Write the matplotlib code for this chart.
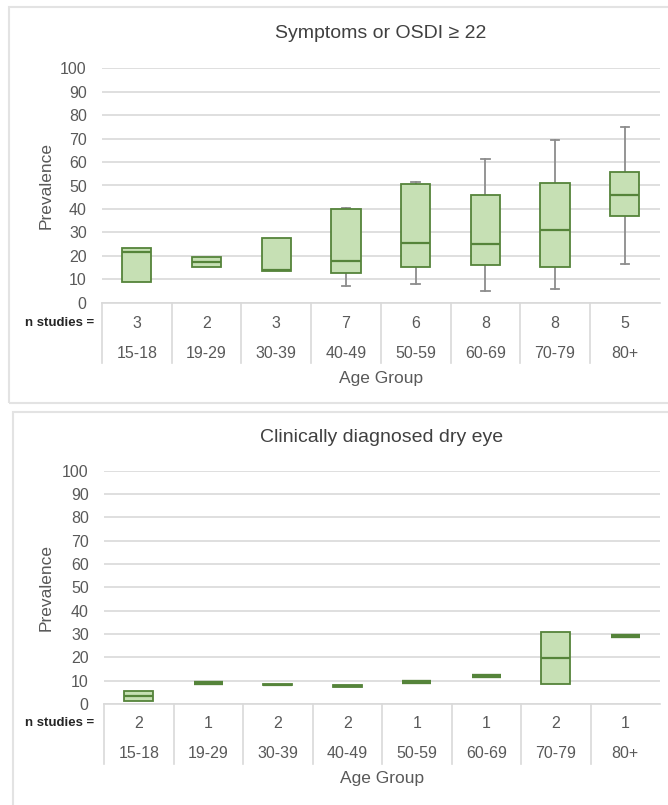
#!/usr/bin/env python3

import matplotlib
matplotlib.use('Agg')
import matplotlib.pyplot as plt
import matplotlib.transforms as mtransforms
from matplotlib.patches import Rectangle

plt.rcParams['font.family'] = ['Liberation Sans', 'DejaVu Sans']

# Age groups shared by both panels
AGES = ['15-18', '19-29', '30-39', '40-49', '50-59', '60-69', '70-79', '80+']

# Panel 1: symptoms or OSDI >= 22
sym_n = [3, 2, 3, 7, 6, 8, 8, 5]
sym_lo = [9.0, 15.1, 13.7, 7.1, 7.8, 5.0, 5.7, 16.4]
sym_q1 = [9.0, 15.1, 13.7, 12.8, 15.4, 16.1, 15.1, 37.1]
sym_med = [21.5, 17.2, 14.0, 17.9, 25.3, 24.9, 31.0, 45.9]
sym_q3 = [23.4, 19.3, 27.6, 39.8, 50.6, 45.8, 51.1, 55.9]
sym_hi = [23.4, 19.3, 27.6, 40.3, 51.5, 61.2, 69.4, 75.1]

# Panel 2: clinically diagnosed dry eye
clin_n = [2, 1, 2, 2, 1, 1, 2, 1]
clin_lo = [1.3, 8.9, 8.0, 7.4, 9.4, 12.0, 8.4, 29.0]
clin_q1 = [1.3, 8.9, 8.0, 7.4, 9.4, 12.0, 8.4, 29.0]
clin_med = [3.4, 8.9, 8.3, 7.7, 9.4, 12.0, 19.6, 29.0]
clin_q3 = [5.7, 8.9, 8.6, 8.0, 9.4, 12.0, 31.0, 29.0]
clin_hi = [5.7, 8.9, 8.6, 8.0, 9.4, 12.0, 31.0, 29.0]

W, H = 668, 805
FILL = '#c6e0b4'
EDGE = '#55843a'
WHISK = '#8c8c8c'
GRID = '#d9d9d9'
TXT = '#595959'


def fy(py):
    """pixel row (from top) -> figure fraction"""
    return 1 - py / H


def draw_panel(fig, rect, title, n, lo, q1, med, q3, hi, rows):
    ax = fig.add_axes(rect)
    stats = []
    for i in range(len(AGES)):
        stats.append(dict(med=med[i], q1=q1[i], q3=q3[i],
                          whislo=lo[i], whishi=hi[i], fliers=[]))
    pos = list(range(1, len(AGES) + 1))
    art = ax.bxp(stats, positions=pos, widths=0.42, patch_artist=True,
                 showfliers=False, capwidths=0.12,
                 boxprops=dict(facecolor=FILL, edgecolor=EDGE, linewidth=1.3),
                 medianprops=dict(color=EDGE, linewidth=1.6),
                 whiskerprops=dict(color=WHISK, linewidth=1.3),
                 capprops=dict(color=WHISK, linewidth=1.3))
    for i in range(len(AGES)):
        if lo[i] >= q1[i]:
            art['caps'][2 * i].set_visible(False)
        if hi[i] <= q3[i]:
            art['caps'][2 * i + 1].set_visible(False)
        if q3[i] - q1[i] < 0.01:
            art['boxes'][i].set_linewidth(3)
            art['medians'][i].set_linewidth(3)
        art['boxes'][i].set_zorder(3)
        art['medians'][i].set_zorder(4)

    ax.set_xlim(0.5, len(AGES) + 0.5)
    ax.set_ylim(0, 100)
    ax.set_yticks(range(0, 101, 10))
    ax.set_xticks([])
    ax.yaxis.grid(True, color=GRID, linewidth=1.2)
    ax.set_axisbelow(True)
    for s in ax.spines.values():
        s.set_visible(False)
    ax.tick_params(axis='y', length=0, pad=11, labelsize=11.5, labelcolor=TXT)

    # table under the axis
    y_axis, y_cnt, y_age, y_lbl, y_end, y_title = rows
    tr = mtransforms.blended_transform_factory(ax.transData, fig.transFigure)
    ax.plot([0.5, len(AGES) + 0.5], [fy(y_axis)] * 2, color=GRID,
            linewidth=1.2, transform=tr, clip_on=False)
    for k in range(len(AGES)):
        ax.plot([k + 0.5, k + 0.5], [fy(y_axis), fy(y_end)], color=GRID,
                linewidth=1.2, transform=tr, clip_on=False)
        ax.text(k + 1, fy(y_cnt), str(n[k]), transform=tr, ha='center',
                va='center', fontsize=11.5, color=TXT)
        ax.text(k + 1, fy(y_age), AGES[k], transform=tr, ha='center',
                va='center', fontsize=11.5, color=TXT)
    fig.text(60 / W, fy(y_cnt), 'n studies =', ha='center', va='center',
             fontsize=9.5, fontweight='bold', color='#262626')
    ax.text(4.5, fy(y_lbl), 'Age Group', transform=tr, ha='center',
            va='center', fontsize=12.5, color=TXT)
    ax.text(4.5, fy(y_title), title, transform=tr, ha='center',
            va='center', fontsize=14, color='#404040')
    fig.text(46 / W, (rect[1] + rect[1] + rect[3]) / 2, 'Prevalence',
             rotation=90, ha='center', va='center', fontsize=12.5, color=TXT)
    return ax


def main():
    fig = plt.figure(figsize=(W / 100, H / 100), dpi=100)

    # panel frames
    fig.patches.append(Rectangle((9 / W, fy(403)), 1, (403 - 7) / H,
                                 transform=fig.transFigure, fill=False,
                                 edgecolor='#e3e3e3', linewidth=1.5))
    fig.patches.append(Rectangle((13 / W, fy(812)), 1, (812 - 412) / H,
                                 transform=fig.transFigure, fill=False,
                                 edgecolor='#e3e3e3', linewidth=1.5))

    draw_panel(fig, [102 / W, fy(302.7), 557.6 / W, (302.7 - 68.3) / H],
               'Symptoms or OSDI \u2265 22',
               sym_n, sym_lo, sym_q1, sym_med, sym_q3, sym_hi,
               (302.7, 323, 353, 378, 363, 33))
    draw_panel(fig, [104 / W, fy(704), 556 / W, (704 - 470.7) / H],
               'Clinically diagnosed dry eye',
               clin_n, clin_lo, clin_q1, clin_med, clin_q3, clin_hi,
               (704, 723, 753, 778, 764, 437))

    fig.savefig('out.png', dpi=100)
    plt.close(fig)


if __name__ == '__main__':
    main()
